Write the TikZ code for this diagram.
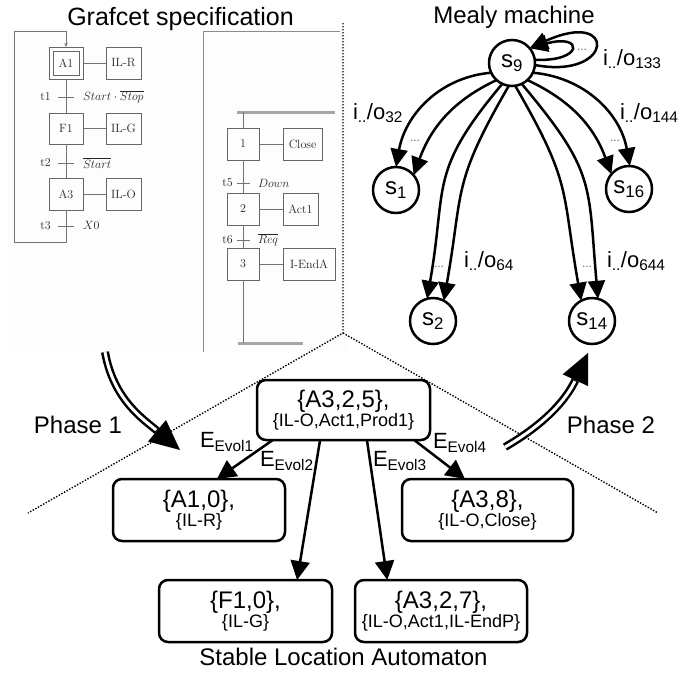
\documentclass[tikz,border=0pt]{standalone}
\usepackage{fontspec}
\newfontfamily\arialf{Liberation Sans}
\usetikzlibrary{arrows.meta}
\begin{document}
\begin{tikzpicture}[x=1pt,y=1pt,
  every node/.style={inner sep=0pt, outer sep=0pt},
  st/.style={circle, draw, line width=2.5pt, minimum size=46pt, font=\arialf\fontsize{24}{26}\selectfont},
  marr/.style={line width=2.5pt, -{Triangle[length=18pt,width=17pt]}},
  lbl/.style={font=\arialf\fontsize{22}{24}\selectfont, anchor=base west},
  dts/.style={font=\arialf\fontsize{12}{12}\selectfont, text=black!60},
  sla/.style={draw, fill=white, rounded corners=9pt, line width=2.5pt, align=center, minimum height=62pt, font=\arialf},
  sarr/.style={line width=2.5pt, -{Triangle[length=19pt,width=19pt]}},
  elbl/.style={font=\arialf\fontsize{22}{24}\selectfont, anchor=base west},
  ttl/.style={font=\arialf\fontsize{24}{26}\selectfont, anchor=base},
  sep/.style={line width=1.4pt, dash pattern=on 1.4pt off 1.6pt},
  gline/.style={draw=black!55, line width=0.8pt},
  gbox/.style={draw=black!60, line width=0.8pt, minimum height=32pt, font=\fontsize{12}{14}\selectfont, text=black!85},
  gtxt/.style={font=\fontsize{12}{14}\selectfont, text=black!85},
  gbar/.style={draw=black!35, line width=3pt},
  phase/.style={line width=8pt, -{Triangle[length=30pt,width=28pt,line width=0pt]}},
  phasein/.style={white, line width=3pt, shorten >=31pt},
]
\useasboundingbox (0,0) rectangle (700,-673);
\fill[white] (0,0) rectangle (700,-673);

% ---------- Grafcet screenshot ----------
\fill[black!0.8] (7,-28) rectangle (346,-352);
\draw[draw=black!45, line width=0.8pt] (203,-352) -- (203,-31) -- (340,-31);

% left grafcet
\node[gbox, minimum width=34pt] (A1o) at (66,-63) {};
\node[gbox, minimum width=26pt, minimum height=24pt] (A1) at (66,-63) {A1};
\node[gbox, minimum width=35pt] (ILR) at (123.5,-63) {IL-R};
\node[gbox, minimum width=34pt, minimum height=31pt] (F1) at (66,-128.5) {F1};
\node[gbox, minimum width=35pt, minimum height=31pt] (ILG) at (123.5,-128.5) {IL-G};
\node[gbox, minimum width=34pt] (A3) at (66,-194) {A3};
\node[gbox, minimum width=35pt] (ILO) at (123.5,-194) {IL-O};
\draw[gline] (A1o) -- (ILR);
\draw[gline] (F1) -- (ILG);
\draw[gline] (A3) -- (ILO);
\draw[gline] (A1o.south) -- (F1.north);
\draw[gline] (F1.south) -- (A3.north);
\draw[gline, -{Stealth[length=4pt,width=3.5pt]}] (A3.south) -- (66,-242) -- (14,-242) -- (14,-31) -- (66,-31) -- (A1o.north);
\draw[gline] (58,-97) -- (74,-97);
\draw[gline] (58,-163) -- (74,-163);
\draw[gline] (58,-226) -- (74,-226);
\node[gtxt] (t1) at (45.5,-97) {t1};
\node[gtxt] (t2) at (45.5,-163) {t2};
\node[gtxt] (t3) at (45.5,-226) {t3};
\node[gtxt, anchor=west] (c1) at (83,-97) {$Start\cdot\overline{Stop}$};
\node[gtxt, anchor=west] (c2) at (83,-163) {$\overline{Start}$};
\node[gtxt, anchor=west] (c3) at (83,-226) {$X$0};

% right grafcet
\draw[gbar] (237,-112) -- (335,-112);
\draw[gbar] (238,-343) -- (303,-343);
\node[gbox, minimum width=32pt] (S1) at (243,-144) {1};
\node[gbox, minimum width=39pt] (CL) at (302.5,-144) {Close};
\node[gbox, minimum width=32pt] (S2) at (243,-209) {2};
\node[gbox, minimum width=35pt] (AC) at (300.5,-209) {Act1};
\node[gbox, minimum width=32pt] (S3) at (243,-264) {3};
\node[gbox, minimum width=52pt] (IE) at (309,-264) {I-EndA};
\draw[gline] (243,-112) -- (S1.north);
\draw[gline] (S1.south) -- (S2.north);
\draw[gline] (S2.south) -- (S3.north);
\draw[gline] (S3.south) -- (243,-343);
\draw[gline] (S1) -- (CL);
\draw[gline] (S2) -- (AC);
\draw[gline] (S3) -- (IE);
\draw[gline] (237,-183) -- (250,-183);
\draw[gline] (237,-240) -- (250,-240);
\node[gtxt] (t5) at (227.5,-183) {t5};
\node[gtxt] (t6) at (227.5,-240) {t6};
\node[gtxt, anchor=west] (c5) at (258,-183) {$Down$};
\node[gtxt, anchor=west] (c6) at (258,-240) {$\overline{Req}$};

% ---------- separators ----------
\draw[sep] (343,-23) -- (343,-333) -- (28,-513);
\draw[sep] (343,-333) -- (658,-513);

% ---------- titles ----------
\node[ttl, font=\arialf\fontsize{25}{27}\selectfont] (tg) at (180.5,-25) {Grafcet specification};
\node[ttl] (tm) at (514,-23) {Mealy machine};
\node[ttl] (ts) at (343.5,-665) {Stable Location Automaton};
\node[ttl] (ph1) at (78,-433) {Phase 1};
\node[ttl] (ph2) at (611,-433) {Phase 2};

% ---------- Mealy machine ----------
\node[st] (s9) at (512,-63) {s\textsubscript{9}};
\node[st] (s1) at (396,-190) {s\textsubscript{1}};
\node[st] (s16) at (629,-189) {s\textsubscript{16}};
\node[st] (s2) at (433,-321) {s\textsubscript{2}};
\node[st] (s14) at (592,-321) {s\textsubscript{14}};

\draw[marr] (s9.205) to[out=185,in=80] (s1.90);
\draw[marr] (s9.228) to[out=205,in=70] (s1.40);
\draw[marr] (s9.-25) to[out=-5,in=100] (s16.88);
\draw[marr] (s9.-48) to[out=-25,in=110] (s16.140);
\draw[marr] (s9.245) to[out=230,in=80,looseness=1.3] (s2.105);
\draw[marr] (s9.262) to[out=240,in=80,looseness=1.3] (s2.62);
\draw[marr] (s9.295) to[out=310,in=95,looseness=1.3] (s14.75);
\draw[marr] (s9.278) to[out=300,in=100,looseness=1.3] (s14.118);
\draw[marr] (s9.-5) .. controls (614,-80) and (618,-8) .. (s9.40);
\draw[marr] (s9.8) .. controls (584,-62) and (584,-33) .. (s9.40);

\node[lbl] (l133) at (603,-65) {i\textsubscript{..}/o\textsubscript{133}};
\node[lbl] (l32) at (353,-119) {i\textsubscript{..}/o\textsubscript{32}};
\node[lbl] (l144) at (620,-119) {i\textsubscript{..}/o\textsubscript{144}};
\node[lbl] (l64) at (464,-267) {i\textsubscript{..}/o\textsubscript{64}};
\node[lbl] (l644) at (607,-267) {i\textsubscript{..}/o\textsubscript{644}};
\node[dts] (d133) at (582,-50) {...};
\node[dts] (d32) at (415,-141) {...};
\node[dts] (d144) at (615,-141) {...};
\node[dts] (d64) at (439,-267) {...};
\node[dts] (d644) at (587,-267) {...};

% ---------- Phase arrows ----------
\coordinate (p1s) at (105,-352);
\coordinate (p1e) at (180,-450);
\draw[phase] (p1s) to[out=-80,in=140] (p1e);
\draw[phasein] (p1s) to[out=-80,in=140] (p1e);
\coordinate (p2s) at (505,-447);
\coordinate (p2e) at (588,-353);
\draw[phase] (p2s) to[out=30,in=245] (p2e);
\draw[phasein] (p2s) to[out=30,in=245] (p2e);

% ---------- Stable Location Automaton ----------
\node[sla, minimum width=173pt, minimum height=60pt] (top) at (343.5,-410)
  {\fontsize{24}{26}\selectfont\{A3,2,5\},\\\fontsize{18}{21}\selectfont\{IL-O,Act1,Prod1\}};
\node[sla, minimum width=172pt] (a10) at (199,-510)
  {\fontsize{24}{26}\selectfont\{A1,0\},\\\fontsize{18}{21}\selectfont\{IL-R\}};
\node[sla, minimum width=171pt] (a38) at (487.5,-510)
  {\fontsize{24}{26}\selectfont\{A3,8\},\\\fontsize{18}{21}\selectfont\{IL-O,Close\}};
\node[sla, minimum width=173pt] (f10) at (245.5,-611)
  {\fontsize{24}{26}\selectfont\{F1,0\},\\\fontsize{18}{21}\selectfont\{IL-G\}};
\node[sla, minimum width=172pt] (a327) at (441,-611)
  {\fontsize{24}{26}\selectfont\{A3,2,7\},\\\fontsize{18}{21}\selectfont\{IL-O,Act1,IL-EndP\}};

\draw[sarr] (top.203) -- (a10.60);
\draw[sarr] (top.232) -- (f10.31);
\draw[sarr] (top.308) -- (a327.150);
\draw[sarr] (top.337) -- (a38.126);

\node[elbl] (e1) at (200,-447) {E\textsubscript{Evol1}};
\node[elbl] (e2) at (260,-466) {E\textsubscript{Evol2}};
\node[elbl] (e3) at (373,-466) {E\textsubscript{Evol3}};
\node[elbl] (e4) at (433,-448) {E\textsubscript{Evol4}};
\end{tikzpicture}
\end{document}
